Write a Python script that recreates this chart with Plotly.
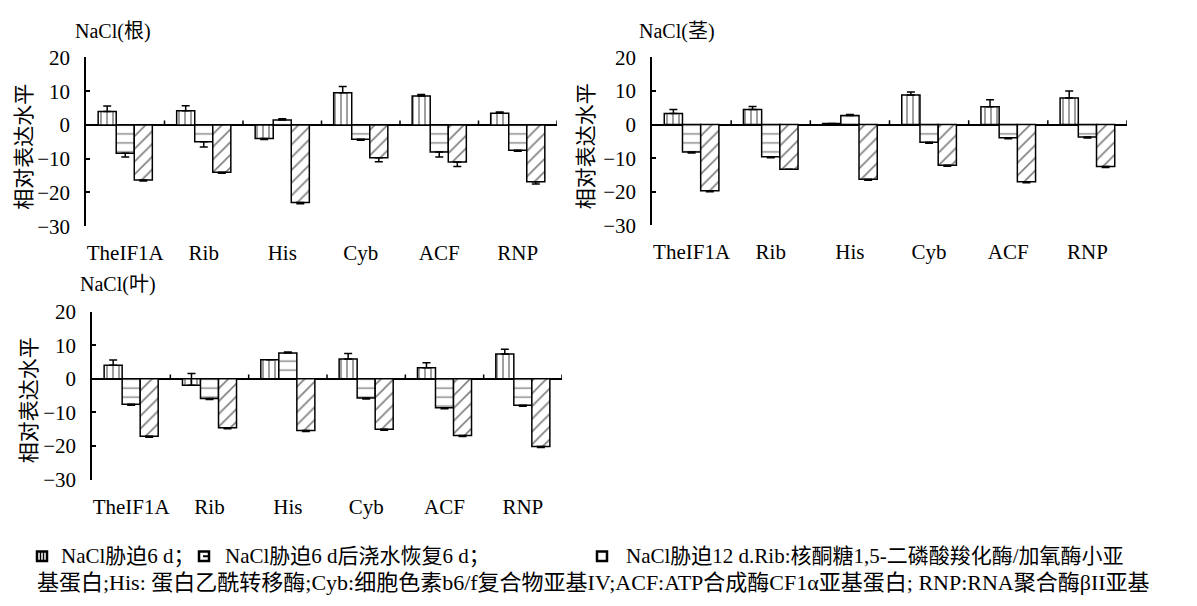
import plotly.graph_objects as go

categories = ["TheIF1A", "Rib", "His", "Cyb", "ACF", "RNP"]
y_tick_vals = [-30, -20, -10, 0, 10, 20]
series_names = ["NaCl胁迫6 d", "NaCl胁迫6 d后浇水恢复6 d", "NaCl胁迫12 d"]

# 根 (root)
root_6d = [4.0, 4.2, -4.0, 9.5, 8.6, 3.5]
root_rw = [-8.4, -5.0, 1.5, -4.2, -8.0, -7.5]
root_12d = [-16.3, -14.0, -23.0, -9.7, -11.0, -16.8]
root_6d_err = [1.6, 1.5, -0.3, 1.9, 0.4, 0.3]
root_rw_err = [-1.1, -1.5, 0.3, -0.3, -1.5, -0.3]
root_12d_err = [-0.3, -0.3, -0.3, -1.2, -1.3, -0.7]

# 茎 (stem)
stem_6d = [3.3, 4.5, 0.3, 8.8, 5.3, 7.9]
stem_rw = [-8.2, -9.6, 2.7, -5.3, -3.9, -3.7]
stem_12d = [-19.7, -13.3, -16.3, -12.1, -17.0, -12.5]
stem_6d_err = [1.2, 0.9, 0.0, 0.9, 2.1, 2.1]
stem_rw_err = [-0.3, -0.3, 0.3, -0.3, -0.3, -0.3]
stem_12d_err = [-0.3, 0.0, -0.3, -0.3, -0.3, -0.3]

# 叶 (leaf)
leaf_6d = [4.0, -1.9, 5.7, 5.9, 3.3, 7.4]
leaf_rw = [-7.6, -5.9, 7.7, -5.7, -8.6, -7.9]
leaf_12d = [-17.1, -14.6, -15.4, -15.0, -16.9, -20.2]
leaf_6d_err = [1.6, 3.5, 0.0, 1.6, 1.5, 1.4]
leaf_rw_err = [-0.3, -0.3, 0.3, -0.3, -0.3, -0.3]
leaf_12d_err = [-0.3, -0.3, -0.3, -0.3, -0.3, -0.3]

# page is 1197x606; the page body has an 8px margin, so the figure is
# placed at (8, 8) and sized to fit inside the window.
OFF = 8
FW, FH = 1181, 590
def px(x):
    return (x - OFF) / FW
def py(y):
    return 1 - (y - OFF) / FH

SER = "Liberation Serif, Noto Sans CJK SC"
CJK = "Noto Sans CJK SC"

patterns = [dict(shape="|", size=6, solidity=0.25),
            dict(shape="-", size=9, solidity=0.15),
            dict(shape="/", size=9, solidity=0.18)]

panels = [
    dict(title="NaCl(根)", vals=(root_6d, root_rw, root_12d),
         errs=(root_6d_err, root_rw_err, root_12d_err),
         x0=86, x1=557, y0=47, y1=223, tx=73, ty=20, ytx=22),
    dict(title="NaCl(茎)", vals=(stem_6d, stem_rw, stem_12d),
         errs=(stem_6d_err, stem_rw_err, stem_12d_err),
         x0=652, x1=1127, y0=47, y1=222, tx=637, ty=20, ytx=584),
    dict(title="NaCl(叶)", vals=(leaf_6d, leaf_rw, leaf_12d),
         errs=(leaf_6d_err, leaf_rw_err, leaf_12d_err),
         x0=92, x1=562, y0=312, y1=487, tx=78, ty=284, ytx=27),
]

fig = go.Figure()
annotations = []
shapes = []
layout = {}

for i, p in enumerate(panels):
    n = "" if i == 0 else str(i + 1)
    xa, ya = "x" + n, "y" + n
    for s in range(3):
        e = p["errs"][s]
        plus = [max(v, 0) for v in e]
        minus = [max(-v, 0) for v in e]
        fig.add_trace(go.Bar(
            x=categories, y=p["vals"][s], name=series_names[s],
            xaxis=xa, yaxis=ya, showlegend=False,
            marker=dict(color="white", line=dict(color="black", width=1.5),
                        pattern=dict(fgcolor="black", bgcolor="white", **patterns[s])),
            error_y=dict(type="data", symmetric=False, array=plus, arrayminus=minus,
                         color="black", thickness=1.5, width=4),
        ))
    layout["xaxis" + n] = dict(
        domain=[px(p["x0"]), px(p["x1"])], anchor=ya,
        showline=False, showgrid=False, zeroline=False, ticks="",
        tickfont=dict(family=SER, size=21, color="black"),
        ticklabelstandoff=12, range=[-0.5, 5.5], type="category",
    )
    layout["yaxis" + n] = dict(
        domain=[py(p["y1"]), py(p["y0"])], anchor=xa,
        range=[-30, 20], tickvals=y_tick_vals, showgrid=False,
        showline=True, linecolor="black", linewidth=1.5,
        ticks="inside", ticklen=4, tickcolor="black", tickwidth=1.5,
        zeroline=True, zerolinecolor="black", zerolinewidth=1.5,
        tickfont=dict(family=SER, size=21, color="black"),
        ticklabelstandoff=10,
    )
    for k in range(6):
        shapes.append(dict(type="line", xref=xa, yref=ya, x0=k + 0.5, x1=k + 0.5,
                           y0=0, y1=1.3, line=dict(color="black", width=1.5)))
    annotations.append(dict(text=p["title"], xref="paper", yref="paper",
                            x=px(p["tx"]), y=py(p["ty"]), xanchor="left", yanchor="middle",
                            showarrow=False, font=dict(family=SER, size=20, color="black")))
    annotations.append(dict(text="相对表达水平", xref="paper", yref="paper",
                            x=px(p["ytx"]), y=py((p["y0"] + p["y1"]) / 2 + 5),
                            xanchor="center", yanchor="middle", textangle=-90,
                            showarrow=False, font=dict(family=CJK, size=21, color="black")))

# caption / legend lines
legend_y1 = 567
legend_y2 = 594
cap_font = dict(family=SER, size=21, color="black")
row1 = [(59, series_names[0] + "；"), (223, series_names[1] + "；"),
        (624, series_names[2] + ".Rib:核酮糖1,5-二磷酸羧化酶/加氧酶小亚")]
for x, t in row1:
    annotations.append(dict(text=t, xref="paper", yref="paper", x=px(x), y=py(legend_y1),
                            xanchor="left", yanchor="middle", showarrow=False, font=cap_font))
annotations.append(dict(
    text="基蛋白;His: 蛋白乙酰转移酶;Cyb:细胞色素b6/f复合物亚基IV;ACF:ATP合成酶CF1α亚基蛋白; RNP:RNA聚合酶βII亚基",
    xref="paper", yref="paper", x=px(35), y=py(legend_y2), xanchor="left", yanchor="middle",
    showarrow=False, font=dict(family=SER, size=22, color="black")))

# legend icons
icons = [37, 199, 597]
for j, ix in enumerate(icons):
    shapes.append(dict(type="rect", xref="paper", yref="paper",
                       x0=px(ix), x1=px(ix + 10), y0=py(legend_y1 + 5), y1=py(legend_y1 - 5),
                       line=dict(color="black", width=2.5), fillcolor="white"))
    if j == 0:
        for dx in (3.5, 6.5):
            shapes.append(dict(type="line", xref="paper", yref="paper",
                               x0=px(ix + dx), x1=px(ix + dx), y0=py(legend_y1 + 5), y1=py(legend_y1 - 5),
                               line=dict(color="black", width=1.5)))
    elif j == 1:
        shapes.append(dict(type="line", xref="paper", yref="paper",
                           x0=px(ix + 4), x1=px(ix + 10), y0=py(legend_y1), y1=py(legend_y1),
                           line=dict(color="black", width=2)))

fig.update_layout(
    width=FW, height=FH, margin=dict(l=0, r=0, t=0, b=0),
    paper_bgcolor="white", plot_bgcolor="white",
    barmode="group", bargap=0.31, bargroupgap=0,
    annotations=annotations, shapes=shapes, **layout,
)

fig.write_html("out.html")
